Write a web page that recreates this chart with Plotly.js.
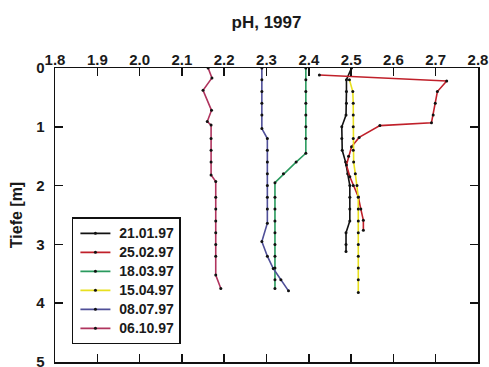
<!DOCTYPE html>
<html><head><meta charset="utf-8">
<script src="https://cdn.plot.ly/plotly-3.0.1.min.js"></script>
<style>html,body{margin:0;padding:0;background:#fff;}#chart{width:489px;height:367px;}</style>
</head><body><div id="chart"></div>
<script>
// Series: pH values and depths (m)
const names = ["21.01.97","25.02.97","18.03.97","15.04.97","08.07.97","06.10.97"];
const colors = ["#111111","#c0202a","#2a9a5e","#e8e020","#4f4f98","#b0345e"];

const depth_2101 = [0.0,0.2,0.4,0.6,0.8,1.0,1.2,1.4,1.6,1.8,2.0,2.2,2.4,2.6,2.8,3.0,3.12];
const ph_2101    = [2.501,2.489,2.489,2.489,2.488,2.478,2.478,2.479,2.487,2.492,2.497,2.497,2.497,2.497,2.488,2.488,2.488];

const depth_2502 = [0.12,0.22,0.40,0.60,0.80,0.93,0.98,1.18,1.34,1.50,1.65,1.85,2.00,2.19,2.40,2.59,2.76];
const ph_2502    = [2.425,2.726,2.704,2.699,2.694,2.690,2.568,2.519,2.501,2.494,2.489,2.497,2.505,2.517,2.523,2.529,2.529];

const depth_1803 = [0.0,0.2,0.4,0.6,0.8,1.0,1.2,1.45,1.6,1.8,1.95,2.2,2.4,2.6,2.8,3.0,3.2,3.4,3.6,3.75];
const ph_1803    = [2.393,2.393,2.393,2.393,2.393,2.393,2.393,2.393,2.370,2.340,2.320,2.320,2.320,2.320,2.320,2.320,2.320,2.320,2.320,2.320];

const depth_1504 = [0.2,0.4,0.6,0.8,1.0,1.2,1.4,1.6,1.8,2.0,2.2,2.4,2.6,2.8,3.0,3.2,3.4,3.6,3.82];
const ph_1504    = [2.496,2.504,2.505,2.505,2.505,2.505,2.505,2.506,2.510,2.514,2.517,2.517,2.517,2.517,2.517,2.517,2.517,2.517,2.517];

const depth_0807 = [0.0,0.2,0.4,0.6,0.8,1.03,1.2,1.4,1.6,1.8,2.0,2.2,2.4,2.64,2.95,3.2,3.41,3.6,3.79];
const ph_0807    = [2.289,2.289,2.289,2.289,2.289,2.289,2.302,2.302,2.302,2.302,2.302,2.302,2.302,2.302,2.289,2.302,2.316,2.334,2.352];

const depth_0610 = [0.0,0.17,0.38,0.72,0.91,0.97,1.2,1.4,1.6,1.82,1.93,2.2,2.4,2.6,2.8,3.0,3.2,3.52,3.75];
const ph_0610    = [2.162,2.171,2.150,2.170,2.160,2.169,2.169,2.169,2.169,2.169,2.180,2.180,2.180,2.180,2.180,2.180,2.180,2.180,2.192];

const xTicks = [1.8,1.9,2.0,2.1,2.2,2.3,2.4,2.5,2.6,2.7,2.8];
const yTicks = [0,1,2,3,4,5];

const series = [
  [ph_2101, depth_2101],
  [ph_2502, depth_2502],
  [ph_1803, depth_1803],
  [ph_1504, depth_1504],
  [ph_0807, depth_0807],
  [ph_0610, depth_0610]
];

const traces = series.map((s, i) => ({
  x: s[0], y: s[1],
  name: '<span style="font-size:14px">\u00a0' + names[i] + '</span>',
  type: 'scatter', mode: 'lines+markers',
  line: {color: colors[i], width: 1.6},
  marker: {color: '#111', size: 3}
}));

const font = {family: 'Liberation Sans, Arial, sans-serif', color: '#1a1a1a', weight: 'bold'};
const f = (size) => Object.assign({size: size}, font);
const layout = {
  width: 489, height: 367,
  margin: {l: 55, r: 11, t: 68, b: 5},
  paper_bgcolor: '#fff', plot_bgcolor: '#fff',
  font: f(15),
  showlegend: true,
  title: {text: 'pH, 1997', x: 0.545, xanchor: 'center', y: 0.94, yanchor: 'middle', font: f(17)},
  xaxis: {
    side: 'top', range: [1.8, 2.8], tickvals: xTicks, ticktext: xTicks.map(v => v.toFixed(1)),
    ticks: 'inside', ticklen: 8, tickwidth: 1.5, tickcolor: '#111',
    showline: true, linecolor: '#111', linewidth: 1.5, mirror: 'allticks',
    showgrid: false, zeroline: false, tickfont: f(15),
    ticklabelstandoff: -4, ticklabeloverflow: 'allow'
  },
  yaxis: {
    range: [5, 0], tickvals: yTicks, ticks: 'inside', ticklen: 8, tickwidth: 1.5, tickcolor: '#111',
    showline: true, linecolor: '#111', linewidth: 1.5, mirror: 'allticks',
    showgrid: false, zeroline: false, tickfont: f(15),
    ticklabelstandoff: 6, ticklabeloverflow: 'allow',
    title: {text: 'Tiefe [m]', font: f(16), standoff: 9}
  },
  legend: {
    x: 0.04, y: 0.06, xanchor: 'left', yanchor: 'bottom',
    bgcolor: '#fff', bordercolor: '#111', borderwidth: 1.5,
    font: f(11), itemwidth: 30, tracegroupgap: 0, indentation: 2
  }
};

Plotly.newPlot('chart', traces, layout, {staticPlot: true, displayModeBar: false});
</script></body></html>
